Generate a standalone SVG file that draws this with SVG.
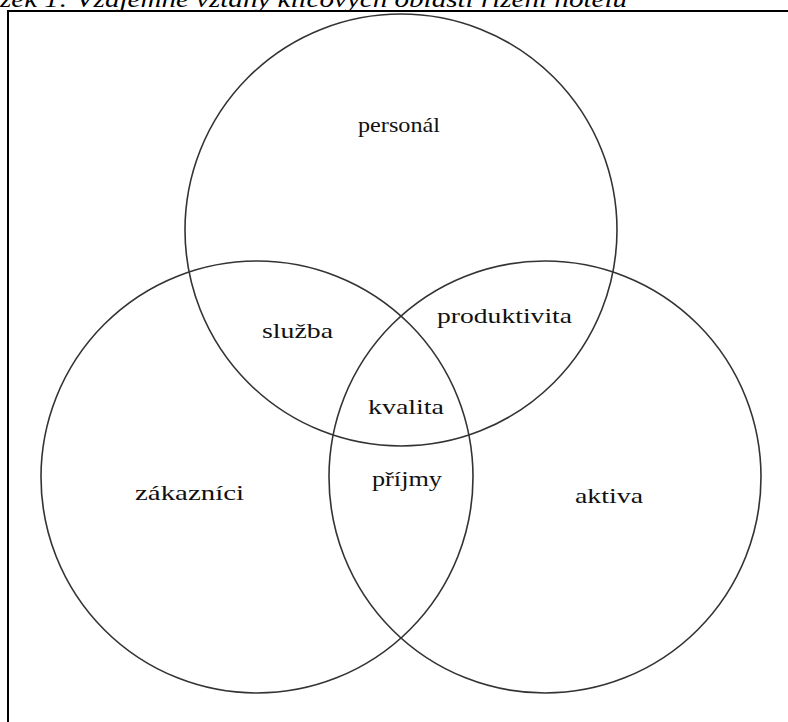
<svg xmlns="http://www.w3.org/2000/svg" width="788" height="722" viewBox="0 0 788 722">
  <style>
    .c { fill: none; stroke: #333; stroke-width: 1.6; }
    .t { font-family: "Liberation Serif", "Times New Roman", serif; font-size: 22px; fill: #111; }
    .cap { font-family: "Liberation Serif", "Times New Roman", serif; font-size: 24px; font-style: italic; fill: #000; }
  </style>
  <rect width="788" height="722" fill="#fff"/>
  <text class="cap" x="0" y="7" textLength="627" lengthAdjust="spacingAndGlyphs">zek 1: Vzájemné vztahy klíčových oblastí řízení hotelu</text>
  <path d="M 8 730 V 11 H 796" fill="none" stroke="#000" stroke-width="2"/>
  <g id="personal">
    <circle class="c" cx="401" cy="230" r="216"/>
    <text class="t" x="358" y="132" textLength="82" lengthAdjust="spacingAndGlyphs">personál</text>
  </g>
  <g id="zakaznici">
    <circle class="c" cx="257" cy="477" r="216"/>
    <text class="t" x="135" y="500" textLength="109" lengthAdjust="spacingAndGlyphs">zákazníci</text>
  </g>
  <g id="aktiva">
    <circle class="c" cx="545" cy="477" r="216"/>
    <text class="t" x="575" y="503" textLength="68" lengthAdjust="spacingAndGlyphs">aktiva</text>
  </g>
  <g id="sluzba">
    <text class="t" x="262" y="338" textLength="71" lengthAdjust="spacingAndGlyphs">služba</text>
  </g>
  <g id="produktivita">
    <text class="t" x="437" y="323" textLength="135" lengthAdjust="spacingAndGlyphs">produktivita</text>
  </g>
  <g id="kvalita">
    <text class="t" x="368" y="414" textLength="76" lengthAdjust="spacingAndGlyphs">kvalita</text>
  </g>
  <g id="prijmy">
    <text class="t" x="372" y="486" textLength="70" lengthAdjust="spacingAndGlyphs">příjmy</text>
  </g>
</svg>
